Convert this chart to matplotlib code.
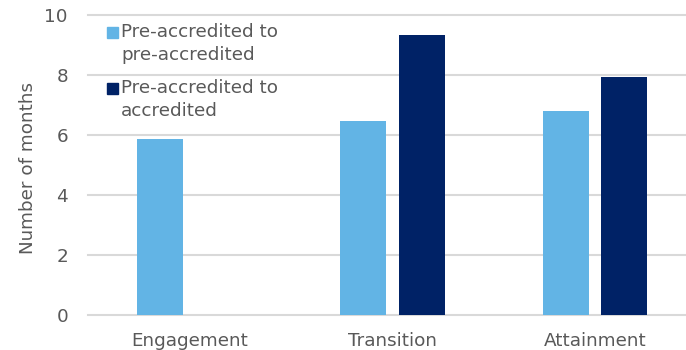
import numpy as np
import matplotlib
matplotlib.use("Agg")
import matplotlib.pyplot as plt
from matplotlib.patches import Rectangle

categories = ["Engagement", "Transition", "Attainment"]
series_names = ["Pre-accredited to\npre-accredited", "Pre-accredited to\naccredited"]
pre_to_pre = [5.88, 6.47, 6.81]
pre_to_acc = [np.nan, 9.32, 7.94]
yticks = [0, 2, 4, 6, 8, 10]
colors = ["#62B4E5", "#002266"]
text_color = "#595959"
grid_color = "#D9D9D9"
fs = 13.2

W, H = 686, 350
fig = plt.figure(figsize=(W / 100, H / 100), dpi=100)
ax = fig.add_axes([88 / W, 35 / H, (W - 88) / W, 300 / H])

x = np.arange(len(categories))
bw = 0.2266
off = 0.143
ax.bar(x - off, pre_to_pre, width=bw, color=colors[0], zorder=3)
ax.bar(x + off, pre_to_acc, width=bw, color=colors[1], zorder=3)

ax.set_xlim(-0.5, 2.446)
ax.set_ylim(0, 10)
for yv in yticks:
    ax.axhline(yv, color=grid_color, lw=1.5, zorder=1, clip_on=False)
ax.set_yticks(yticks)
ax.set_xticks(x)
ax.set_xticklabels(categories)
for s in ax.spines.values():
    s.set_visible(False)
ax.tick_params(axis="y", length=0, pad=14.4, labelsize=fs, labelcolor=text_color)
ax.tick_params(axis="x", length=0, pad=12, labelsize=fs, labelcolor=text_color)

fig.text(28 / W, (H - 167.5) / H, "Number of months", rotation=90, ha="center",
         va="center", fontsize=fs, color=text_color)

# manual legend
entries_top = [27, 83]
for name, col, top in zip(series_names, colors, entries_top):
    fig.add_artist(Rectangle((107 / W, (H - top - 10.5) / H), 10.5 / W, 10.5 / H,
                             transform=fig.transFigure, color=col))
    fig.text(121 / W, (H - top + 4) / H, name, ha="left", va="top", fontsize=fs,
             color=text_color, linespacing=1.33)

fig.savefig("out.png", dpi=100)
